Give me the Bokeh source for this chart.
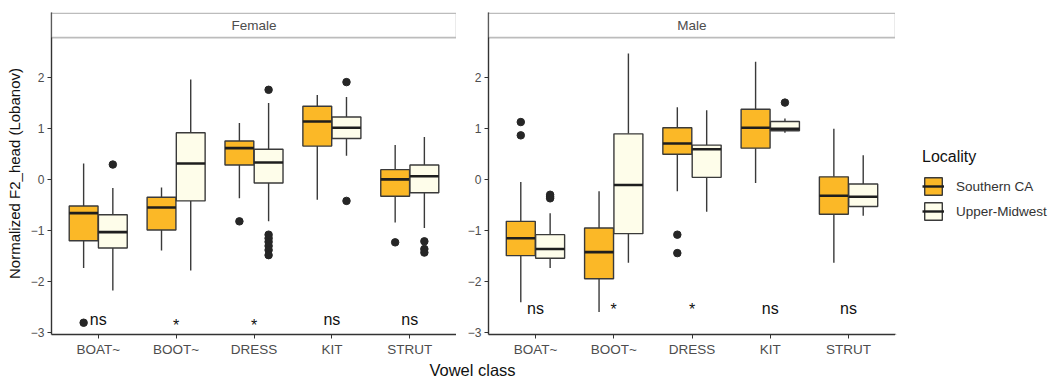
from bokeh.plotting import figure
from bokeh.models import (ColumnDataSource, Range1d, FixedTicker, BoxAnnotation,
                          Label, Legend, LegendItem)
from bokeh.layouts import row, column
from bokeh.embed import file_html
from bokeh.resources import INLINE
from bokeh.core.properties import value

# ---------------- data ----------------
vowels = ["BOAT~", "BOOT~", "DRESS", "KIT", "STRUT"]
localities = ["Southern CA", "Upper-Midwest"]

# Female, Southern CA
f_sc_lo  = [-1.73, -1.39, -0.37, -0.40, -0.84]
f_sc_q1  = [-1.20, -0.99, 0.28, 0.65, -0.33]
f_sc_med = [-0.66, -0.55, 0.61, 1.13, 0.00]
f_sc_q3  = [-0.52, -0.35, 0.75, 1.43, 0.19]
f_sc_hi  = [0.31, -0.16, 1.10, 1.65, 0.67]
f_sc_out = [[-2.80], [], [-0.82], [], [-1.23]]

# Female, Upper-Midwest
f_um_lo  = [-2.17, -1.78, -0.82, 0.46, -0.95]
f_um_q1  = [-1.34, -0.42, -0.07, 0.80, -0.26]
f_um_med = [-1.03, 0.31, 0.33, 1.01, 0.06]
f_um_q3  = [-0.69, 0.91, 0.59, 1.22, 0.28]
f_um_hi  = [-0.17, 1.95, 1.49, 1.61, 0.83]
f_um_out = [[0.29], [], [1.75, -1.08, -1.15, -1.22, -1.30, -1.38, -1.48],
            [1.90, -0.42], [-1.21, -1.36, -1.43]]

# Male, Southern CA
m_sc_lo  = [-2.40, -2.59, -0.23, -0.07, -1.63]
m_sc_q1  = [-1.49, -1.94, 0.49, 0.61, -0.68]
m_sc_med = [-1.15, -1.42, 0.70, 1.01, -0.32]
m_sc_q3  = [-0.82, -0.95, 1.01, 1.37, 0.05]
m_sc_hi  = [-0.05, -0.23, 1.41, 2.30, 0.99]
m_sc_out = [[1.12, 0.86], [], [-1.08, -1.44], [], []]

# Male, Upper-Midwest
m_um_lo  = [-1.73, -1.63, -0.63, 0.91, -0.71]
m_um_q1  = [-1.54, -1.06, 0.04, 0.95, -0.53]
m_um_med = [-1.36, -0.11, 0.59, 0.99, -0.34]
m_um_q3  = [-1.08, 0.89, 0.67, 1.13, -0.09]
m_um_hi  = [-0.66, 2.46, 1.35, 1.19, 0.47]
m_um_out = [[-0.30, -0.34, -0.37], [], [], [1.50], []]

# significance labels (text middle positions)
sig_labels = ["ns", "*", "*", "ns", "ns"]
f_sig_y = [-2.735, -2.845, -2.845, -2.735, -2.735]
m_sig_y = [-2.52, -2.55, -2.55, -2.52, -2.52]

y_ticks = [-3, -2, -1, 0, 1, 2]

# ---------------- styling ----------------
FONT = "Liberation Sans"
ORANGE = "#FBB827"
IVORY = "#FEFDEA"
LINE = "#3a3a3a"
FILLS = [ORANGE, IVORY]
OFFS = [-0.1875, 0.1875]
BOXW = 0.37
Y0, Y1 = -3.03, 3.26
STRIP_BOTTOM = 2.77
FIG_H = 361
BORDER_T = 12
BORDER_B = 27


def make_panel(title, groups, sig_y, width, left_b, ylabel):
    p = figure(width=width, height=FIG_H,
               x_range=Range1d(0.4, 5.6),
               y_range=Range1d(Y0, Y1), toolbar_location=None,
               output_backend="svg", min_border_left=left_b,
               min_border_right=0, min_border_top=BORDER_T,
               min_border_bottom=BORDER_B)
    p.outline_line_color = None
    p.grid.visible = False
    p.background_fill_color = "white"
    p.border_fill_color = "white"

    xs_base = list(range(1, len(vowels) + 1))
    for g, (lo, q1, med, q3, hi, outs) in enumerate(groups):
        xs = [x + OFFS[g] for x in xs_base]
        src = ColumnDataSource(dict(
            x=xs, lo=lo, q1=q1, med=med, q3=q3, hi=hi,
            left=[x - BOXW / 2 for x in xs], right=[x + BOXW / 2 for x in xs]))
        p.segment(x0="x", y0="q3", x1="x", y1="hi", source=src,
                  line_color=LINE, line_width=1.4)
        p.segment(x0="x", y0="q1", x1="x", y1="lo", source=src,
                  line_color=LINE, line_width=1.4)
        p.vbar(x="x", width=BOXW, top="q3", bottom="q1", source=src,
               fill_color=FILLS[g], line_color=LINE, line_width=1.4)
        p.segment(x0="left", y0="med", x1="right", y1="med", source=src,
                  line_color="#1e1e1e", line_width=2.6)
        ox, oy = [], []
        for i, vals in enumerate(outs):
            for v in vals:
                ox.append(xs[i])
                oy.append(v)
        p.scatter(x=ox, y=oy, size=7.5, fill_color="#262626",
                  line_color="#262626")

    p.text(x=xs_base, y=sig_y, text=sig_labels, text_align="center",
           text_baseline="middle", text_font=value(FONT),
           text_font_size="16px", text_color="#111111")

    # facet strip
    p.add_layout(BoxAnnotation(bottom=STRIP_BOTTOM, top=Y1 - 0.015,
                               left=0.4, right=5.6, fill_color="white",
                               fill_alpha=1, line_color="#222222",
                               line_width=1.6))
    p.add_layout(Label(x=3, y=(STRIP_BOTTOM + Y1) / 2, text=title,
                       text_align="center", text_baseline="middle",
                       text_font=FONT, text_font_size="13.5px",
                       text_color="#4d4d4d"))

    for ax in (p.xaxis[0], p.yaxis[0]):
        ax.axis_line_color = "#333333"
        ax.axis_line_width = 1.4
        ax.major_tick_line_color = "#333333"
        ax.major_tick_out = 4
        ax.major_tick_in = 0
        ax.minor_tick_line_color = None
        ax.major_label_text_font = FONT
        ax.major_label_text_color = "#4d4d4d"
        ax.major_label_standoff = 3

    p.xaxis.ticker = FixedTicker(ticks=xs_base)
    p.xaxis.major_label_overrides = {i + 1: v for i, v in enumerate(vowels)}
    p.xaxis.major_label_text_font_size = "13.5px"

    p.yaxis.ticker = FixedTicker(ticks=y_ticks)
    p.yaxis.major_label_text_font_size = "12px"
    if ylabel:
        p.yaxis.axis_label = ylabel
        p.yaxis.axis_label_text_font = FONT
        p.yaxis.axis_label_text_font_size = "15px"
        p.yaxis.axis_label_text_font_style = "normal"
        p.yaxis.axis_label_text_color = "#111111"
        p.yaxis.axis_label_standoff = 5
    return p


fem = make_panel("Female",
                 [(f_sc_lo, f_sc_q1, f_sc_med, f_sc_q3, f_sc_hi, f_sc_out),
                  (f_um_lo, f_um_q1, f_um_med, f_um_q3, f_um_hi, f_um_out)],
                 f_sig_y, 456, 51, "Normalized F2_head (Lobanov)")
mal = make_panel("Male",
                 [(m_sc_lo, m_sc_q1, m_sc_med, m_sc_q3, m_sc_hi, m_sc_out),
                  (m_um_lo, m_um_q1, m_um_med, m_um_q3, m_um_hi, m_um_out)],
                 m_sig_y, 439, 32, None)

# legend panel (keys drawn with the same box styles; key marks lie off-view)
leg = figure(width=155, height=FIG_H, toolbar_location=None, title=None,
             output_backend="svg", min_border=0, x_axis_type=None,
             y_axis_type=None, x_range=Range1d(0, 1), y_range=Range1d(0, 1))
leg.outline_line_color = None
leg.grid.visible = False
items = []
for g, lab in enumerate(localities):
    key_src = ColumnDataSource(dict(x=[-10.0], top=[-10.0], bottom=[-11.0],
                                    x1=[-9.0]))
    vb = leg.vbar(x="x", width=0.1, top="top", bottom="bottom", source=key_src,
                  fill_color=FILLS[g], line_color=LINE, line_width=1.4)
    md = leg.segment(x0="x", y0="bottom", x1="x1", y1="bottom", source=key_src,
                     line_color="#1e1e1e", line_width=2.4)
    items.append(LegendItem(label=lab, renderers=[vb, md]))

legend = Legend(items=items, title="Locality", location=(27, 112),
                orientation="vertical")
legend.title_text_font = FONT
legend.title_text_font_size = "16px"
legend.title_text_font_style = "normal"
legend.title_text_color = "#111111"
legend.title_standoff = 9
legend.label_text_font = FONT
legend.label_text_font_size = "13.5px"
legend.label_text_color = "#333333"
legend.glyph_width = 22
legend.glyph_height = 22
legend.label_standoff = 12
legend.spacing = 3
legend.padding = 4
legend.margin = 0
legend.border_line_color = None
legend.background_fill_alpha = 0
leg.add_layout(legend, "center")

tfig = figure(width=1050, height=16, toolbar_location=None, title=None,
              output_backend="svg", min_border=0, x_axis_type=None,
              y_axis_type=None, x_range=Range1d(0, 1050), y_range=Range1d(0, 16))
tfig.outline_line_color = None
tfig.grid.visible = False
tfig.add_layout(Label(x=472, y=8, text="Vowel class", text_align="center",
                      text_baseline="middle", text_font=FONT,
                      text_font_size="16.5px", text_color="#111111"))

layout = column(row(fem, mal, leg), tfig)
open("out.html", "w").write(file_html(layout, INLINE))
